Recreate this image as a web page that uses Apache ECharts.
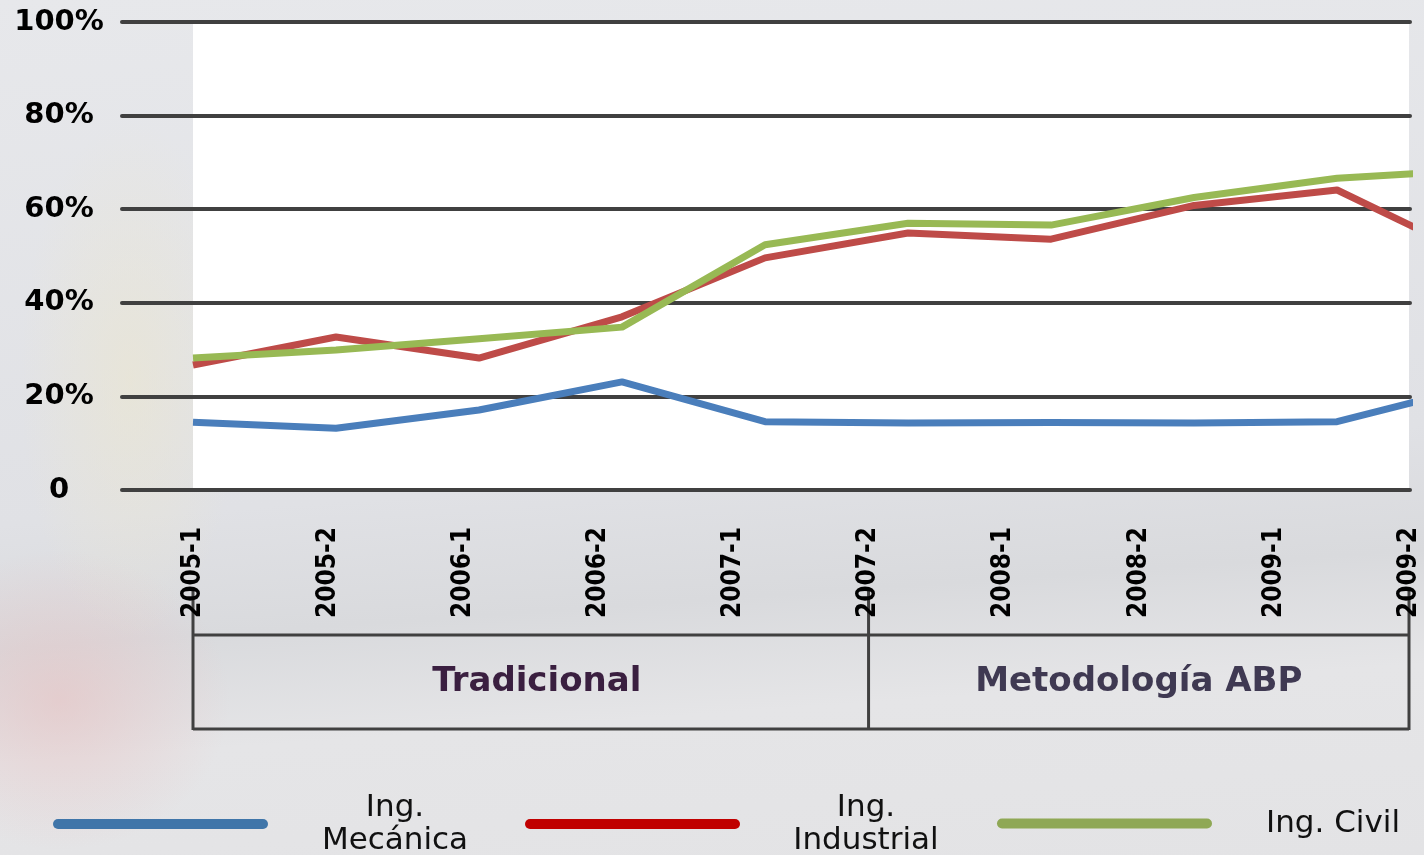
<!DOCTYPE html>
<html>
<head>
<meta charset="utf-8">
<script src="https://cdn.jsdelivr.net/npm/echarts@6.0.0/dist/echarts.min.js"></script>
<style>
html, body { margin: 0; padding: 0; }
body {
  width: 1424px;
  height: 855px;
  overflow: hidden;
  background:
    radial-gradient(ellipse 170px 150px at 60px 700px, rgba(232, 190, 190, 0.55), rgba(232, 190, 190, 0)),
    radial-gradient(ellipse 110px 260px at 130px 380px, rgba(236, 230, 205, 0.55), rgba(236, 230, 205, 0)),
    linear-gradient(176deg, #e7e8eb 0%, #e0e1e5 55%, #d9dadd 68%, #e5e5e7 80%, #e3e3e5 100%);
}
#main { width: 1424px; height: 855px; }
</style>
</head>
<body>
<div id="main"></div>
<script>
// periodos
var categories = ["2005-1", "2005-2", "2006-1", "2006-2", "2007-1",
                  "2007-2", "2008-1", "2008-2", "2009-1", "2009-2"];
// % por carrera
var mecanica   = [14.5, 13.2, 17.1, 23.1, 14.6, 14.3, 14.4, 14.3, 14.6, 22.4];
var industrial = [26.7, 32.7, 28.2, 37.0, 49.6, 54.9, 53.6, 60.8, 64.1, 49.4];
var civil      = [28.2, 29.9, 32.3, 34.8, 52.4, 57.0, 56.6, 62.5, 66.6, 68.4];
var yTicks = [0, 20, 40, 60, 80, 100];
// etapas bajo el eje
var periodNames = ["Tradicional", "Metodología ABP"];
var periodBounds = [0, 5, 9];

var seriesNames = ["Ing. Mecánica", "Ing. Industrial", "Ing. Civil"];
var lineColors = ["#4a7ebb", "#be4b48", "#98b954"];
var legendColors = ["#3f75a9", "#c00000", "#8fa855"];

var chart = echarts.init(document.getElementById("main"));

function pts(arr) {
  return arr.map(function (v, i) { return [i, v]; });
}

var capsule = "path://M5,0 L210,0 A5,5 0 0 1 210,10 L5,10 A5,5 0 0 1 5,0 Z";

function legendFor(i, left, boxW, pad) {
  return {
    left: left,
    top: i === 2 ? 808 : 792,
    padding: 0,
    orient: "horizontal",
    selectedMode: false,
    icon: capsule,
    itemWidth: 215,
    itemHeight: 10,
    itemStyle: { borderWidth: 0 },
    data: [{ name: seriesNames[i], itemStyle: { color: legendColors[i], borderWidth: 0 } }],
    formatter: function (name) {
      if (i === 2) return "{t|" + name + "}";
      var p = name.split(" ");
      return "{t|" + p[0] + "}\n{t|" + p[1] + "}";
    },
    textStyle: {
      rich: {
        t: {
          width: boxW,
          align: i === 2 ? "left" : "center",
          padding: [0, 0, 0, pad],
          fontFamily: "DejaVu Sans",
          fontSize: 31,
          lineHeight: 33,
          color: "#111"
        }
      }
    }
  };
}

var option = {
  backgroundColor: "transparent",
  animation: false,
  grid: [
    { left: 122, right: 14, top: 22, bottom: 365, outerBoundsMode: "none" },
    { left: 193, right: 15, top: 22, bottom: 365, show: true, backgroundColor: "#ffffff",
      borderWidth: 0, z: -1, outerBoundsMode: "none" }
  ],
  xAxis: [
    { gridIndex: 0, type: "value", show: false, min: 0, max: 1 },
    {
      gridIndex: 1, type: "category", data: categories, boundaryGap: false,
      axisLine: { show: false }, axisTick: { show: false }, splitLine: { show: false },
      axisLabel: {
        rotate: 90, margin: 37, interval: 0,
        fontFamily: "'Liberation Sans Narrow', 'DejaVu Sans Condensed', sans-serif",
        fontWeight: "bold", fontSize: 26, color: "#000"
      }
    },
    // posiciones de los puntos de las series
    { gridIndex: 1, type: "value", show: false, min: 0, max: 8.503 }
  ],
  yAxis: [
    {
      gridIndex: 0, type: "value", min: 0, max: 100, interval: 20,
      axisLine: { show: false }, axisTick: { show: false },
      axisLabel: {
        margin: 63, align: "center",
        fontFamily: "DejaVu Sans", fontWeight: "bold", fontSize: 29, color: "#000",
        formatter: function (v) { return yTicks.indexOf(v) === 0 ? "0" : v + "%"; }
      },
      splitLine: { lineStyle: { color: "#404040", width: 4, cap: "round" } }
    },
    { gridIndex: 1, type: "value", show: false, min: 0, max: 100, splitLine: { show: false } }
  ],
  legend: [
    legendFor(0, 53, 244, 0),
    legendFor(1, 525, 242, 0),
    legendFor(2, 997, 160, 49)
  ],
  series: [mecanica, industrial, civil].map(function (d, i) {
    return {
      name: seriesNames[i],
      type: "line",
      xAxisIndex: 2,
      yAxisIndex: 1,
      data: pts(d),
      showSymbol: false,
      symbol: "none",
      clip: true,
      z: 3 + i,
      color: lineColors[i],
      lineStyle: { color: lineColors[i], width: 7, join: "round" }
    };
  })
};

chart.setOption(option);

// llaves de etapas bajo el eje x
var xs = periodBounds.map(function (b) {
  return chart.convertToPixel({ xAxisIndex: 1 }, categories[b]);
});
var lineSty = { stroke: "#404040", lineWidth: 3 };
var g = [];
xs.forEach(function (x) {
  g.push({ type: "line", shape: { x1: x, y1: 588, x2: x, y2: 730 }, style: lineSty, silent: true });
});
g.push({ type: "line", shape: { x1: xs[0], y1: 635, x2: xs[2], y2: 635 }, style: lineSty, silent: true });
g.push({ type: "line", shape: { x1: xs[0], y1: 729, x2: xs[2], y2: 729 }, style: lineSty, silent: true });
var txtColors = ["#3a1f40", "#3f3952"];
periodNames.forEach(function (n, i) {
  g.push({
    type: "text",
    x: (xs[i] + xs[i + 1]) / 2 + (i === 0 ? 6 : 0),
    y: 682,
    silent: true,
    style: {
      text: n,
      font: "bold 34px 'DejaVu Sans'",
      fill: txtColors[i],
      align: "center",
      verticalAlign: "middle",
      textAlign: "center",
      textVerticalAlign: "middle"
    }
  });
});
chart.setOption({ graphic: g });
</script>
</body>
</html>
